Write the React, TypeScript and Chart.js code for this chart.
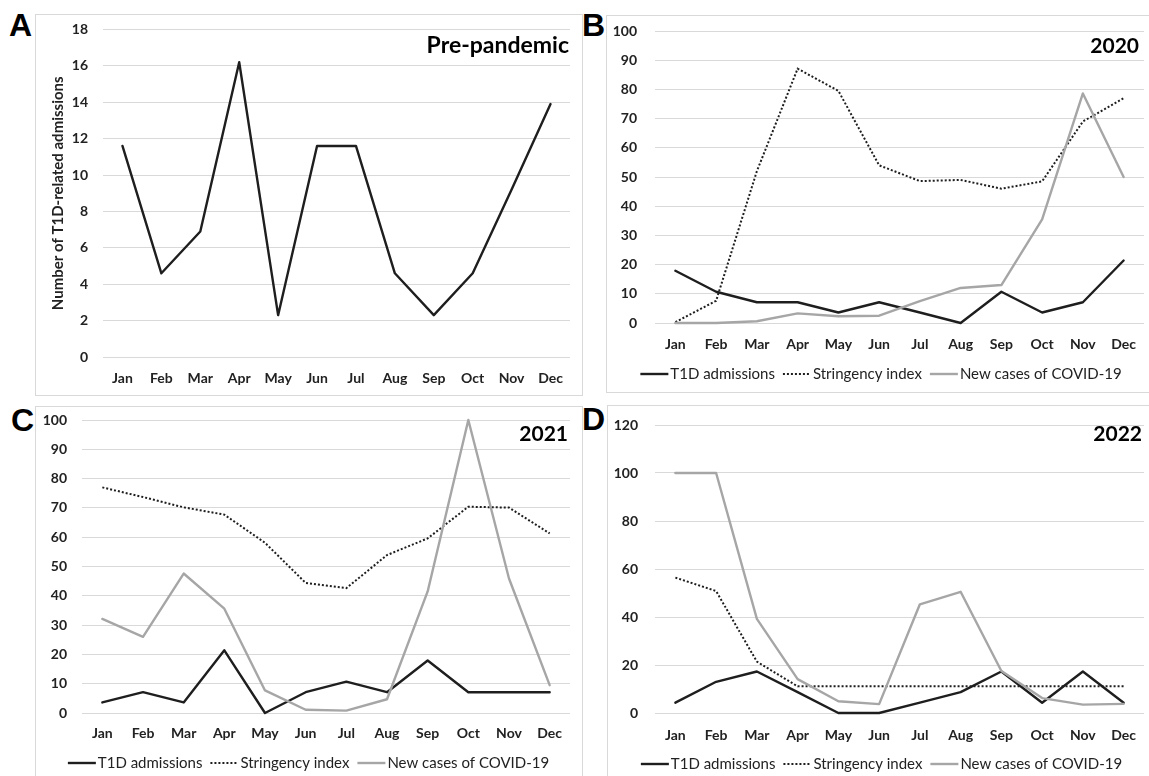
import React, { useEffect, useRef } from "react";
import { Chart, registerables } from "chart.js";

Chart.register(...registerables);

// ---------- data ----------
const months = ["Jan", "Feb", "Mar", "Apr", "May", "Jun", "Jul", "Aug", "Sep", "Oct", "Nov", "Dec"];
const seriesNames = ["T1D admissions", "Stringency index", "New cases of COVID-19"];

const prePandemicT1D = [11.6, 4.6, 6.9, 16.2, 2.3, 11.6, 11.6, 4.6, 2.3, 4.6, 9.2, 13.9];

const t1d2020 = [17.9, 10.7, 7.1, 7.1, 3.6, 7.1, 3.6, 0, 10.7, 3.6, 7.1, 21.4];
const stringency2020 = [0.3, 7.6, 52, 87.1, 79.5, 54, 48.6, 49, 46, 48.5, 69, 77];
const cases2020 = [0, 0, 0.6, 3.3, 2.3, 2.5, 7.5, 12, 13, 35.5, 78.6, 50];

const t1d2021 = [3.6, 7.1, 3.6, 21.4, 0, 7.1, 10.7, 7.1, 17.9, 7.1, 7.1, 7.1];
const stringency2021 = [77, 73.7, 70.2, 67.7, 58.1, 44.4, 42.6, 53.9, 59.6, 70.4, 70.1, 61.3];
const cases2021 = [32.1, 26, 47.6, 35.6, 7.7, 1.1, 0.8, 4.7, 41.5, 100, 45.9, 9.5];

const t1d2022 = [4.3, 13, 17.3, 8.7, 0, 0, 4.3, 8.7, 17.3, 4.3, 17.3, 4.3];
const stringency2022 = [56.4, 50.8, 21.4, 11.1, 11.1, 11.1, 11.1, 11.1, 11.1, 11.1, 11.1, 11.1];
const cases2022 = [100, 100, 39.2, 14.1, 4.9, 3.7, 45.3, 50.5, 17.5, 6.2, 3.5, 3.8];

const axisA = { max: 18, step: 2 };
const axisB = { max: 100, step: 10 };
const axisC = { max: 100, step: 10 };
const axisD = { max: 120, step: 20 };

const yTitleA = "Number of T1D-related admissions";

// ---------- styles ----------
const FONT = "Lato";
const TEXT = "#222222";
const GRID = "#d9d9d9";

const t1dStyle = { borderColor: "#1e1e1e", borderWidth: 2.4, order: 2, borderJoinStyle: "round", borderCapStyle: "round" };
const strStyle = { borderColor: "#1e1e1e", borderWidth: 2, borderDash: [2, 2], order: 1 };
const casesStyle = { borderColor: "#a6a6a6", borderWidth: 2.4, order: 0, borderJoinStyle: "round", borderCapStyle: "round" };

function threeSeries(t1d: number[], str: number[], cases: number[]) {
  return [
    { label: seriesNames[0], data: t1d, ...t1dStyle },
    { label: seriesNames[1], data: str, ...strStyle },
    { label: seriesNames[2], data: cases, ...casesStyle },
  ];
}

type Panel = {
  letter: string;
  border: { left: number; top: number; width: number; height: number };
  letterPos: { left: number; top: number };
  canvas: { left: number; top: number; width: number; height: number };
  datasets: any[];
  axis: { max: number; step: number };
  yWidth: number;
  xHeight: number;
  padTop: number;
  padRight: number;
  yTickPad: number;
  xTickPad: number;
  title: string;
  titleSize: number;
  titleBaseline: number;
  titleRight: number;
  legendY: number | null;
  yTitle?: string;
};

const panels: Panel[] = [
  {
    letter: "A",
    border: { left: 35, top: 14, width: 548, height: 382 },
    letterPos: { left: 9, top: 9 },
    canvas: { left: 35, top: 14, width: 547, height: 381 },
    datasets: [{ label: seriesNames[0], data: prePandemicT1D, ...t1dStyle }],
    axis: axisA,
    yWidth: 68,
    xHeight: 38,
    padTop: 15.5,
    padRight: 12,
    yTickPad: 15,
    xTickPad: 13,
    title: "Pre-pandemic",
    titleSize: 23,
    titleBaseline: 23,
    titleRight: 1,
    legendY: null,
    yTitle: yTitleA,
  },
  {
    letter: "B",
    border: { left: 606, top: 15, width: 560, height: 378 },
    letterPos: { left: 582, top: 9 },
    canvas: { left: 606, top: 15, width: 550, height: 377 },
    datasets: threeSeries(t1d2020, stringency2020, cases2020),
    axis: axisB,
    yWidth: 49,
    xHeight: 69,
    padTop: 16,
    padRight: 12,
    yTickPad: 18,
    xTickPad: 13.5,
    title: "2020",
    titleSize: 21,
    titleBaseline: 22,
    titleRight: 5,
    legendY: 359,
  },
  {
    letter: "C",
    border: { left: 35, top: 406, width: 548, height: 400 },
    letterPos: { left: 11, top: 404 },
    canvas: { left: 35, top: 406, width: 547, height: 370 },
    datasets: threeSeries(t1d2021, stringency2021, cases2021),
    axis: axisC,
    yWidth: 47,
    xHeight: 63,
    padTop: 14,
    padRight: 12,
    yTickPad: 15,
    xTickPad: 12.5,
    title: "2021",
    titleSize: 21,
    titleBaseline: 21,
    titleRight: 2,
    legendY: 357,
  },
  {
    letter: "D",
    border: { left: 607, top: 405, width: 560, height: 400 },
    letterPos: { left: 582, top: 403 },
    canvas: { left: 607, top: 405, width: 549, height: 371 },
    datasets: threeSeries(t1d2022, stringency2022, cases2022),
    axis: axisD,
    yWidth: 48,
    xHeight: 63,
    padTop: 20,
    padRight: 12,
    yTickPad: 17,
    xTickPad: 14.5,
    title: "2022",
    titleSize: 21,
    titleBaseline: 16,
    titleRight: 2,
    legendY: 359,
  },
];

function decorPlugin(p: Panel) {
  return {
    id: "decor" + p.letter,
    afterDraw(chart: any) {
      const ctx = chart.ctx as CanvasRenderingContext2D;
      const area = chart.chartArea;
      ctx.save();
      // panel title
      ctx.font = `bold ${p.titleSize}px ${FONT}`;
      ctx.fillStyle = "#000000";
      ctx.textAlign = "right";
      ctx.textBaseline = "alphabetic";
      ctx.fillText(p.title, area.right - p.titleRight, area.top + p.titleBaseline);

      // legend
      if (p.legendY !== null) {
        const ds = chart.data.datasets;
        ctx.font = `15px ${FONT}`;
        const sample = 28;
        const gap = 2;
        const itemGap = 8;
        const widths = ds.map((d: any) => ctx.measureText(d.label).width);
        let total = 0;
        widths.forEach((w: number, i: number) => {
          total += sample + gap + w + (i < widths.length - 1 ? itemGap : 0);
        });
        let x = chart.width / 2 - total / 2;
        const y = p.legendY;
        ds.forEach((d: any, i: number) => {
          ctx.save();
          ctx.strokeStyle = d.borderColor;
          ctx.lineWidth = d.borderWidth;
          ctx.setLineDash(d.borderDash || []);
          ctx.beginPath();
          ctx.moveTo(x, y);
          ctx.lineTo(x + sample, y);
          ctx.stroke();
          ctx.restore();
          ctx.fillStyle = TEXT;
          ctx.textAlign = "left";
          ctx.textBaseline = "middle";
          ctx.fillText(d.label, x + sample + gap, y);
          x += sample + gap + widths[i] + itemGap;
        });
      }
      ctx.restore();
    },
  };
}

function makeChart(canvas: HTMLCanvasElement, p: Panel) {
  return new Chart(canvas, {
    type: "line",
    data: {
      labels: months,
      datasets: p.datasets.map((d) => ({
        ...d,
        pointRadius: 0,
        pointHoverRadius: 0,
        tension: 0,
        fill: false,
        clip: false,
      })),
    },
    options: {
      animation: false,
      responsive: false,
      maintainAspectRatio: false,
      events: [],
      layout: { padding: { left: 0, right: p.padRight, top: p.padTop, bottom: 0 } },
      plugins: {
        legend: { display: false },
        tooltip: { enabled: false },
        title: { display: false },
      },
      scales: {
        x: {
          type: "category",
          offset: true,
          grid: { display: false, drawTicks: false },
          border: { display: false },
          ticks: {
            padding: p.xTickPad,
            color: TEXT,
            font: { family: FONT, size: 14, weight: "bold" },
            maxRotation: 0,
            autoSkip: false,
          },
          afterFit: (s: any) => {
            s.height = p.xHeight;
          },
        },
        y: {
          min: 0,
          max: p.axis.max,
          grid: {
            color: GRID,
            lineWidth: 1,
            drawTicks: true,
            tickLength: p.yTickPad,
            tickColor: "rgba(0,0,0,0)",
          },
          border: { display: false },
          ticks: {
            stepSize: p.axis.step,
            padding: 0,
            color: TEXT,
            font: { family: FONT, size: 14, weight: "bold" },
          },
          title: p.yTitle
            ? {
                display: true,
                text: p.yTitle,
                color: TEXT,
                font: { family: FONT, size: 15, weight: "bold" },
                padding: { top: 14, bottom: 0 },
              }
            : { display: false },
          afterFit: (s: any) => {
            s.width = p.yWidth;
          },
        },
      },
    } as any,
    plugins: [decorPlugin(p)],
  });
}

export default function App() {
  const refs = useRef<(HTMLCanvasElement | null)[]>([]);

  useEffect(() => {
    let dead = false;
    let charts: Chart[] = [];
    const fontsReady = (document as any).fonts
      ? Promise.all([
          (document as any).fonts.load(`bold 14px ${FONT}`),
          (document as any).fonts.load(`14px ${FONT}`),
        ]).catch(() => null)
      : Promise.resolve(null);
    fontsReady.then(() => {
      if (dead) return;
      charts = panels.map((p, i) => makeChart(refs.current[i] as HTMLCanvasElement, p));
    });
    return () => {
      dead = true;
      charts.forEach((c) => c.destroy());
    };
  }, []);

  return (
    <div
      style={{
        position: "absolute",
        left: 0,
        top: 0,
        width: 1149,
        height: 776,
        overflow: "hidden",
        background: "#ffffff",
      }}
    >
      {panels.map((p, i) => (
        <React.Fragment key={p.letter}>
          <div
            style={{
              position: "absolute",
              left: p.border.left,
              top: p.border.top,
              width: p.border.width,
              height: p.border.height,
              boxSizing: "border-box",
              border: "1px solid #d9d9d9",
            }}
          />
          <canvas
            ref={(el) => {
              refs.current[i] = el;
            }}
            width={p.canvas.width}
            height={p.canvas.height}
            style={{
              position: "absolute",
              left: p.canvas.left,
              top: p.canvas.top,
              width: p.canvas.width,
              height: p.canvas.height,
            }}
          />
          <div
            style={{
              position: "absolute",
              left: p.letterPos.left,
              top: p.letterPos.top,
              fontFamily: "'Liberation Sans', Arial, sans-serif",
              fontWeight: "bold",
              fontSize: 32,
              lineHeight: "32px",
              color: "#000000",
            }}
          >
            {p.letter}
          </div>
        </React.Fragment>
      ))}
    </div>
  );
}
